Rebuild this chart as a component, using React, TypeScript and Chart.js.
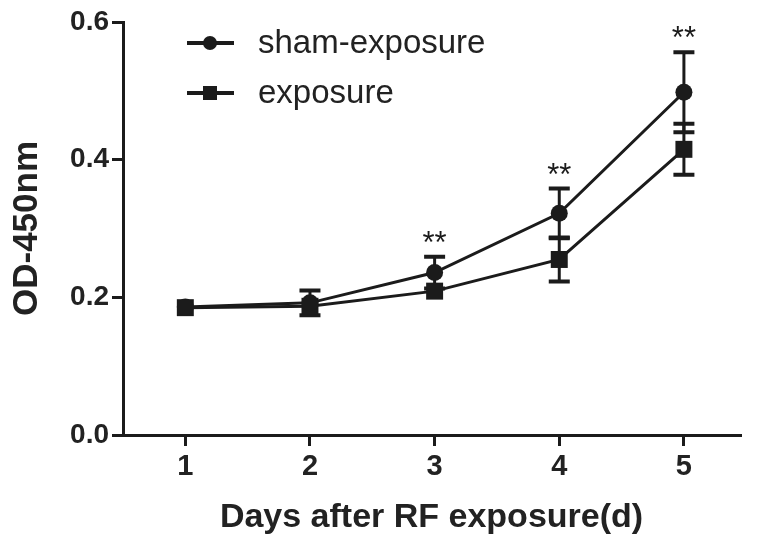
import React, { useEffect, useRef } from "react";
import { Chart, registerables } from "chart.js";

Chart.register(...registerables);

const days = [1, 2, 3, 4, 5];
const xTickValues = [1, 2, 3, 4, 5];
const yTickValues = [0, 0.2, 0.4, 0.6];
const seriesNames = ["sham-exposure", "exposure"];
const shamMeans = [0.186, 0.192, 0.236, 0.322, 0.498];
const shamErrors = [0.004, 0.018, 0.023, 0.036, 0.058];
const exposureMeans = [0.185, 0.187, 0.209, 0.255, 0.415];
const exposureErrors = [0.004, 0.012, 0.008, 0.032, 0.037];
const significance = ["", "", "**", "**", "**"];
const xTitle = "Days after RF exposure(d)";
const yTitle = "OD-450nm";

const INK = "#1b1b1b";
const FONT = "'Liberation Sans', Arial, Helvetica, sans-serif";
const MARKER_HALF = 8.5;

const errorBarPlugin = {
  id: "errorBars",
  beforeDatasetsDraw(chart: any) {
    const { ctx, scales } = chart;
    const xs = scales.x;
    const ys = scales.y;
    ctx.save();
    ctx.strokeStyle = INK;
    chart.data.datasets.forEach((ds: any) => {
      const errs: number[] = ds.errors || [];
      ds.data.forEach((pt: any, i: number) => {
        const e = errs[i];
        if (!e) return;
        const px = xs.getPixelForValue(pt.x);
        const py = ys.getPixelForValue(pt.y);
        const top = ys.getPixelForValue(pt.y + e);
        const bot = ys.getPixelForValue(pt.y - e);
        // bars hidden behind the symbol are not drawn
        if (py - top < MARKER_HALF) return;
        ctx.lineWidth = 3;
        ctx.beginPath();
        ctx.moveTo(px, top);
        ctx.lineTo(px, bot);
        ctx.stroke();
        ctx.lineWidth = 4;
        ctx.beginPath();
        ctx.moveTo(px - 10.5, top);
        ctx.lineTo(px + 10.5, top);
        ctx.moveTo(px - 10.5, bot);
        ctx.lineTo(px + 10.5, bot);
        ctx.stroke();
      });
    });
    ctx.restore();
  },
};

const annotationPlugin = {
  id: "annotations",
  afterDraw(chart: any) {
    const { ctx, scales } = chart;
    const xs = scales.x;
    const ys = scales.y;
    ctx.save();
    // significance stars
    ctx.fillStyle = INK;
    ctx.font = `31px ${FONT}`;
    ctx.textAlign = "center";
    ctx.textBaseline = "alphabetic";
    significance.forEach((s, i) => {
      if (!s) return;
      const px = xs.getPixelForValue(days[i]);
      const py = ys.getPixelForValue(shamMeans[i] + shamErrors[i]);
      ctx.fillText(s, px, py - 4);
    });
    // legend
    const rows = [43, 93];
    const lx0 = 187;
    const lx1 = 234;
    const mx = 210;
    rows.forEach((ry, i) => {
      ctx.strokeStyle = INK;
      ctx.lineWidth = 4;
      ctx.beginPath();
      ctx.moveTo(lx0, ry);
      ctx.lineTo(lx1, ry);
      ctx.stroke();
      ctx.fillStyle = INK;
      if (i === 0) {
        ctx.beginPath();
        ctx.arc(mx, ry, 7, 0, Math.PI * 2);
        ctx.fill();
      } else {
        ctx.fillRect(mx - 7, ry - 7, 14, 14);
      }
      ctx.font = `33px ${FONT}`;
      ctx.textAlign = "left";
      ctx.textBaseline = "middle";
      ctx.fillStyle = "#222";
      ctx.fillText(seriesNames[i], 258, ry + 1);
    });
    ctx.restore();
  },
};

export default function App() {
  const canvasRef = useRef<HTMLCanvasElement | null>(null);

  useEffect(() => {
    if (!canvasRef.current) return;
    const chart = new Chart(canvasRef.current, {
      type: "line",
      data: {
        datasets: [
          {
            label: seriesNames[0],
            data: days.map((d, i) => ({ x: d, y: shamMeans[i] })),
            errors: shamErrors,
            borderColor: INK,
            backgroundColor: INK,
            borderWidth: 3,
            pointStyle: "circle",
            pointRadius: 8.5,
            pointBorderWidth: 0,
            pointBackgroundColor: INK,
            tension: 0,
          } as any,
          {
            label: seriesNames[1],
            data: days.map((d, i) => ({ x: d, y: exposureMeans[i] })),
            errors: exposureErrors,
            borderColor: INK,
            backgroundColor: INK,
            borderWidth: 3,
            pointStyle: "rect",
            pointRadius: 12,
            pointBorderWidth: 0,
            pointBackgroundColor: INK,
            tension: 0,
          } as any,
        ],
      },
      options: {
        animation: false,
        responsive: false,
        maintainAspectRatio: false,
        layout: { padding: { left: 0, top: 22, right: 22, bottom: 0 } },
        plugins: {
          legend: { display: false },
          tooltip: { enabled: false },
        },
        scales: {
          x: {
            type: "linear",
            min: 0.5,
            max: 5.45,
            afterBuildTicks: (s: any) => {
              s.ticks = xTickValues.map((v) => ({ value: v }));
            },
            afterFit: (s: any) => {
              s.height = 109;
            },
            ticks: {
              color: "#222",
              padding: 4,
              font: { family: FONT, size: 29, weight: "bold" },
              callback: (v: any) => String(v),
            },
            grid: {
              display: true,
              drawOnChartArea: false,
              drawTicks: true,
              tickLength: 11,
              lineWidth: 3,
              color: INK,
            },
            border: { display: true, width: 3, color: INK },
            title: {
              display: true,
              text: xTitle,
              color: "#222",
              font: { family: FONT, size: 34, weight: "bold" },
              padding: { top: 0, bottom: 6 },
            },
          },
          y: {
            type: "linear",
            min: 0,
            max: 0.6,
            afterBuildTicks: (s: any) => {
              s.ticks = yTickValues.map((v) => ({ value: v }));
            },
            afterFit: (s: any) => {
              s.width = 123;
            },
            ticks: {
              color: "#222",
              padding: 3,
              font: { family: FONT, size: 28, weight: "bold" },
              callback: (v: any) => Number(v).toFixed(1),
            },
            grid: {
              display: true,
              drawOnChartArea: false,
              drawTicks: true,
              tickLength: 11,
              lineWidth: 3,
              color: INK,
            },
            border: { display: true, width: 3, color: INK },
            title: {
              display: true,
              text: yTitle,
              color: "#222",
              font: { family: FONT, size: 35, weight: "bold" },
              padding: { top: 6, bottom: 0 },
            },
          },
        },
      },
      plugins: [errorBarPlugin, annotationPlugin],
    } as any);
    return () => chart.destroy();
  }, []);

  return (
    <div style={{ position: "absolute", left: 0, top: 0, width: 762, height: 544, background: "#fff" }}>
      <canvas ref={canvasRef} width={762} height={544} style={{ width: 762, height: 544, display: "block" }} />
    </div>
  );
}
